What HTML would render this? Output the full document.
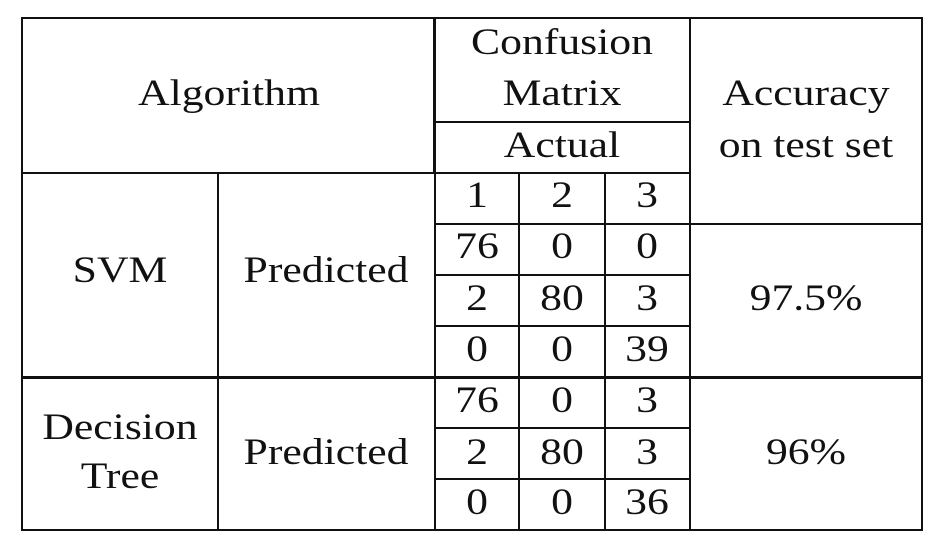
<!DOCTYPE html>
<html><head><meta charset="utf-8">
<style>
body{margin:0;width:948px;height:552px;background:#fff;position:relative;overflow:hidden;font-family:"Liberation Serif",serif;color:#111}
.l{position:absolute;background:#111}
.t{position:absolute;font-size:37px;line-height:40px;transform:translate(-50%,-50%) scaleX(1.18);white-space:nowrap}
</style></head><body>
<div class="l" style="left:21px;top:17px;width:902px;height:2px"></div>
<div class="l" style="left:21px;top:529px;width:902px;height:2px"></div>
<div class="l" style="left:21px;top:17px;width:2px;height:514px"></div>
<div class="l" style="left:921px;top:17px;width:2px;height:514px"></div>
<div class="l" style="left:217px;top:173px;width:2px;height:357px"></div>
<div class="l" style="left:433px;top:17px;width:3px;height:157px"></div>
<div class="l" style="left:434px;top:173px;width:2px;height:357px"></div>
<div class="l" style="left:518px;top:173px;width:2px;height:357px"></div>
<div class="l" style="left:604px;top:173px;width:2px;height:357px"></div>
<div class="l" style="left:689px;top:17px;width:2px;height:513px"></div>
<div class="l" style="left:434px;top:121px;width:257px;height:2px"></div>
<div class="l" style="left:21px;top:172px;width:670px;height:2px"></div>
<div class="l" style="left:434px;top:223px;width:489px;height:2px"></div>
<div class="l" style="left:434px;top:274px;width:257px;height:2px"></div>
<div class="l" style="left:434px;top:325px;width:257px;height:2px"></div>
<div class="l" style="left:21px;top:376px;width:902px;height:3px"></div>
<div class="l" style="left:434px;top:427px;width:257px;height:2px"></div>
<div class="l" style="left:434px;top:478px;width:257px;height:2px"></div>
<div class="t" style="left:229px;top:94px">Algorithm</div>
<div class="t" style="left:562px;top:43px">Confusion</div>
<div class="t" style="left:562px;top:94px">Matrix</div>
<div class="t" style="left:562px;top:146px">Actual</div>
<div class="t" style="left:806px;top:94px">Accuracy</div>
<div class="t" style="left:806px;top:146px">on test set</div>
<div class="t" style="left:477px;top:196px">1</div>
<div class="t" style="left:562px;top:196px">2</div>
<div class="t" style="left:647px;top:196px">3</div>
<div class="t" style="left:120px;top:271px">SVM</div>
<div class="t" style="left:326px;top:271px">Predicted</div>
<div class="t" style="left:806px;top:299px">97.5%</div>
<div class="t" style="left:120px;top:428px">Decision</div>
<div class="t" style="left:120px;top:477px">Tree</div>
<div class="t" style="left:326px;top:453px">Predicted</div>
<div class="t" style="left:806px;top:453px">96%</div>
<div id="cells"></div>
<script>
const svmMatrix=[[76,0,0],[2,80,3],[0,0,39]];
const dtMatrix=[[76,0,3],[2,80,3],[0,0,36]];
const colX=[477,562,647];
const svmY=[247,299,350];
const dtY=[401,453,503];
const host=document.getElementById('cells');
function put(m,ys,prefix){
  m.forEach((row,i)=>row.forEach((v,j)=>{
    const d=document.createElement('div');
    d.className='t';
    d.style.left=colX[j]+'px';d.style.top=ys[i]+'px';
    d.textContent=v;
    
    
    host.appendChild(d);
  }));
}
put(svmMatrix,svmY,'svm');
put(dtMatrix,dtY,'dt');
</script>
</body></html>
